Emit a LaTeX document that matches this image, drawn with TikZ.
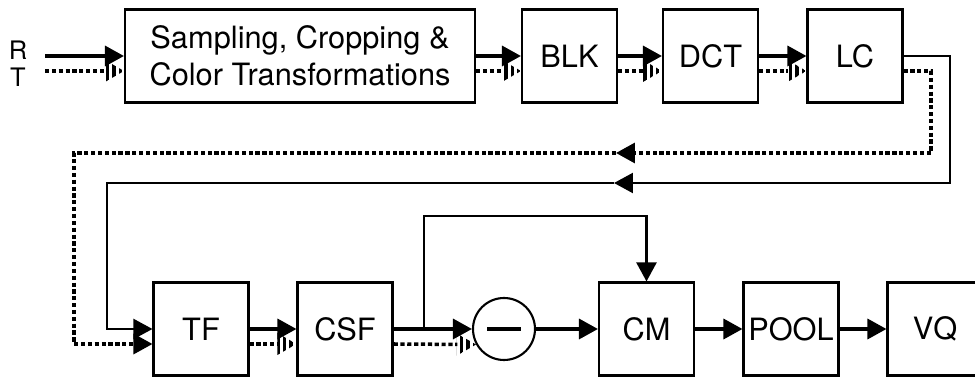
\documentclass[tikz,border=0pt]{standalone}
\usepackage{fontspec}
\setmainfont{TeX Gyre Heros}
\usepackage{tikz}
\usetikzlibrary{arrows.meta,calc,patterns.meta}

\tikzset{
    block/.style={draw=black, line width=1.2pt, minimum width=1.9cm,
        minimum height=1.86cm, inner sep=0pt,
        font=\fontsize{17.5}{21}\selectfont},
    fwd/.style={line width=1.9pt},
    fwddot/.style={line width=2pt, dash pattern=on 2.4pt off 1.5pt,
        shorten >=0.37cm},
    back/.style={line width=1.3pt},
    backdot/.style={line width=1.9pt, dash pattern=on 2.4pt off 1.5pt}
}
% hatched head for the dotted (T) signal
\newcommand{\stripetip}[1]{\fill[pattern={Lines[angle=90,distance=3.6pt,line width=1.9pt]}] #1 -- ++(-19,-11) -- ++(0,22) -- cycle;}

\begin{document}
\begin{tikzpicture}[
            > = {Triangle[length=0.38cm,width=0.4cm]}, % arrow head style
            x = 0.02cm, y = -0.02cm, % one unit = one pixel, y downwards
            semithick % line style
        ]
\path[use as bounding box, clip] (0,0) rectangle (975,378);

\node[font=\fontsize{14.5}{16}\selectfont] (R) at (18,50) {R};
\node[font=\fontsize{14.5}{16}\selectfont] (T) at (18,77) {T};
\coordinate (inR) at (45,56);
\coordinate (inT) at (45,71);

\node[block, minimum width=7cm, align=center] (SCT) at (300,56) {Sampling, Cropping \&\\Color Transformations};
\node[block] (BLK) at (569.5,56) {BLK};
\node[block] (DCT) at (710.5,56) {DCT};
\node[block] (LC) at (855,56) {LC};

\node[block] (TF) at (201,329) {TF};
\node[block] (CSF) at (345,329) {CSF};
\node[shape=circle, draw=black, line width=1.2pt, minimum size=1.24cm, inner sep=0pt] (minus) at (504,329) {\rule{0.68cm}{2.6pt}};
\node[block] (CM) at (646.5,329) {CM};
\node[block] (POOL) at (791,329) {POOL};
\node[block] (VQ) at (935,329) {VQ};

 % R and T paths
 \path [fwd,->] (inR) edge (SCT.west);
 \draw [fwddot] (inT) -- ($(SCT.west)+(0,15)$);
 \stripetip{($(SCT.west)+(0,15)$)}
 \foreach \a/\b in {SCT/BLK, BLK/DCT, DCT/LC, TF/CSF} {
   \path [fwd,->] (\a) edge (\b);
   \draw [fwddot] ($(\a.east)+(0,15)$) -- ($(\b.west)+(0,15)$);
   \stripetip{($(\b.west)+(0,15)$)}
 }

 % feedback to TF
 \coordinate (fbs) at (614,183);
 \coordinate (fbd) at (616,153);
 \draw [back,->] (LC.east) -| (950,183) -- (fbs);
 \draw [back,->] (fbs) -- (107,183) |- (TF.west);
 \draw [backdot,->] ($(LC.east)+(0,15)$) -| (931,153) -- (fbd);
 \draw [backdot,->] (fbd) -- (74,153) |- ($(TF.west)+(0,15)$);

 % difference and masking
 \coordinate (split) at ($(CSF.east)!0.39!(minus.west)$);
 \path [fwd,->] (CSF) edge (minus);
 \draw [fwddot] ($(CSF.east)+(0,15)$) -- (minus.209);
 \stripetip{(minus.209)}
 \draw [back,->] (split) -- ++(0,-113) -| (CM.north);
 \path [fwd,->] (minus) edge (CM);
 \path [fwd,->] (CM) edge (POOL);
 \path [fwd,->] (POOL) edge (VQ);

\end{tikzpicture}
\end{document}
